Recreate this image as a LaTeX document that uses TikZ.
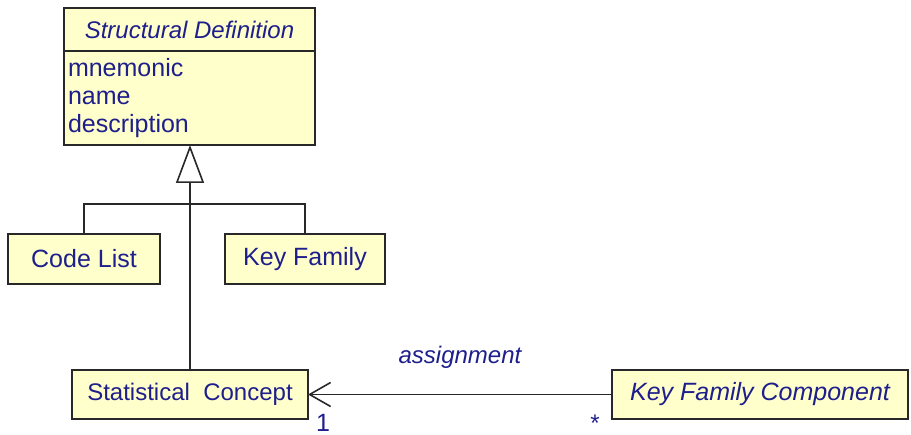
\documentclass[tikz,border=0pt]{standalone}
\usepackage{fontspec}
\setmainfont{Liberation Sans}
\usetikzlibrary{positioning,arrows.meta}

\definecolor{classfill}{RGB}{255,255,204}
\definecolor{textblue}{RGB}{30,30,140}
\definecolor{linegray}{RGB}{40,40,40}
\newcommand{\umlfont}{\fontsize{25}{28}\selectfont}
\newcommand{\umlsmall}{\fontsize{24}{28}\selectfont}

\begin{document}
\begin{tikzpicture}[x=1pt,y=-1pt,
    umlclass/.style={draw=linegray, line width=1.6pt, fill=classfill, text=textblue,
      font=\umlfont, inner sep=0pt, outer sep=0pt, minimum height=49pt},
    umlline/.style={draw=linegray, line width=1.6pt},
    umllabel/.style={text=textblue, font=\umlfont, inner sep=0pt}]

    % 画布大小
    \useasboundingbox (0,0) rectangle (911,435);

    % 父类：类名 + 属性
    \node[umlclass, font=\umlsmall\itshape, minimum width=251pt, minimum height=43pt, anchor=north] (sd) at (189.5,8) {Structural Definition};
    \node[umlclass, minimum width=251pt, minimum height=94pt, anchor=north,
      text width=243pt, align=left] (sdattr) at (sd.south) {mnemonic\\name\\description};

    % 子类
    \node[umlclass, minimum width=152pt, minimum height=50pt] (codelist) at (84,259) {Code List};
    \node[umlclass, minimum width=160pt, minimum height=50pt] (keyfamily) at (305,259) {Key Family};
    \node[umlclass, font=\umlsmall, minimum width=236pt] (concept) at (190,394.5) {Statistical\ \ Concept};
    \node[umlclass, font=\umlfont\itshape, minimum width=296pt] (component) at (760,394.5) {Key Family Component};

    % 继承关系（空心三角）
    \draw[umlline, -{Triangle[open,length=38pt,width=28pt]}] (concept.north) -- (concept.north |- sdattr.south);
    \coordinate (branch) at (190,204);
    \draw[umlline] (codelist.north) |- (branch) -| (keyfamily.north);

    % 关联关系
    \draw[umlline, -{Straight Barb[length=21pt,width=24pt]}] (component.west) -- (concept.east);
    \node[umllabel, font=\umlsmall\itshape] (assoc) at (460,357) {assignment};
    \node[umllabel] (multone) at (323,422.5) {1}; % 多重性
    \node[umllabel, font=\umlsmall] (multmany) at (595,423) {*};

\end{tikzpicture}
\end{document}
